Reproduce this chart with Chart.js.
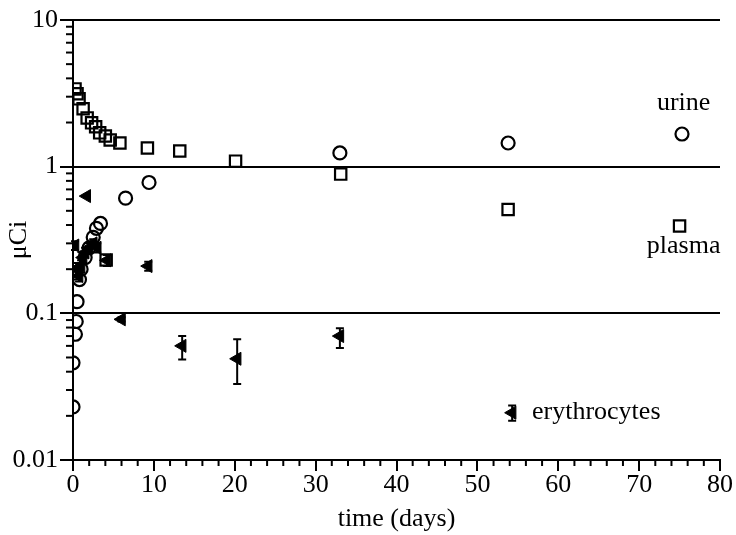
<!DOCTYPE html>
<html lang="en">

<head>
    <meta charset="UTF-8">
    <title>Radioactivity vs time</title>
    <script src="https://cdn.jsdelivr.net/npm/chart.js"></script>
    <style>
        body { margin: 0; background: #fff; }
    </style>
</head>

<body>
    <canvas id="chart" width="736" height="535"></canvas>

    <script>
        // values (time in days, activity in uCi)
        const urineDays = [0, 0, 0.3, 0.4, 0.5, 0.8, 1, 1.5, 2, 2.5, 2.9, 3.4, 6.5, 9.4, 33, 53.8, 75.3];
        const urineUCi = [0.023, 0.046, 0.072, 0.088, 0.12, 0.17, 0.2, 0.24, 0.28, 0.33, 0.38, 0.41, 0.61, 0.78, 1.24, 1.45, 1.67];

        const plasmaDays = [0.25, 0.5, 0.75, 1.25, 1.75, 2.3, 2.8, 3.3, 4, 4.6, 5.8, 9.2, 13.2, 20.1, 33.1, 4.1, 53.8, 75];
        const plasmaUCi = [3.39, 3.14, 2.9, 2.48, 2.15, 1.99, 1.87, 1.7, 1.62, 1.52, 1.45, 1.34, 1.28, 1.09, 0.89, 0.231, 0.51, 0.394];

        const eryDays = [0.25, 0.5, 0.75, 1, 1.25, 1.5, 2, 2.5, 3, 1.7, 4.2, 6, 9.3, 13.5, 20.3, 33, 54.3];
        const eryUCi = [0.29, 0.2, 0.18, 0.21, 0.24, 0.26, 0.28, 0.3, 0.28, 0.63, 0.23, 0.091, 0.21, 0.06, 0.049, 0.07, 0.021];
        const eryLow = [0.27, 0.17, 0.165, 0.19, 0.22, 0.24, 0.26, 0.28, 0.26, 0.62, 0.21, 0.088, 0.195, 0.0485, 0.033, 0.058, 0.0185];
        const eryHigh = [0.31, 0.22, 0.2, 0.23, 0.26, 0.28, 0.3, 0.32, 0.3, 0.64, 0.25, 0.094, 0.225, 0.07, 0.0665, 0.079, 0.0235];

        const yTicks = [0.01, 0.1, 1, 10];
        const serif = "'Liberation Serif', 'Times New Roman', serif";

        function toPoints(xs, ys) {
            return xs.map((x, i) => ({ x: x, y: ys[i] }));
        }

        // minor ticks, error bars and the series labels
        const extras = {
            id: "extras",
            afterDatasetsDraw(chart) {
                let ctx = chart.ctx;
                let xs = chart.scales.x;
                let ys = chart.scales.y;
                let area = chart.chartArea;
                ctx.save();
                ctx.strokeStyle = "#000";
                ctx.lineWidth = 2;

                // log minor ticks on the y axis
                for (let d = 0; d < yTicks.length - 1; d++) {
                    for (let k = 2; k <= 9; k++) {
                        let py = ys.getPixelForValue(yTicks[d] * k);
                        ctx.beginPath();
                        ctx.moveTo(area.left - 7, py);
                        ctx.lineTo(area.left, py);
                        ctx.stroke();
                    }
                }
                // x minor ticks every 2 days
                for (let t = 2; t < 80; t += 2) {
                    if (t % 10 === 0) continue;
                    let px = xs.getPixelForValue(t);
                    ctx.beginPath();
                    ctx.moveTo(px, area.bottom);
                    ctx.lineTo(px, area.bottom + 6);
                    ctx.stroke();
                }

                // erythrocyte error bars
                for (let i = 0; i < eryDays.length; i++) {
                    let px = xs.getPixelForValue(eryDays[i]);
                    let lo = ys.getPixelForValue(eryLow[i]);
                    let hi = ys.getPixelForValue(eryHigh[i]);
                    ctx.beginPath();
                    ctx.moveTo(px, lo);
                    ctx.lineTo(px, hi);
                    ctx.moveTo(px - 4, lo);
                    ctx.lineTo(px + 4, lo);
                    ctx.moveTo(px - 4, hi);
                    ctx.lineTo(px + 4, hi);
                    ctx.stroke();
                }

                // series labels
                ctx.fillStyle = "#000";
                ctx.font = "26px " + serif;
                ctx.textBaseline = "alphabetic";
                ctx.textAlign = "center";
                ctx.fillText("urine", xs.getPixelForValue(75.5), 110);
                ctx.fillText("plasma", xs.getPixelForValue(75.5), 253);
                ctx.textAlign = "left";
                ctx.fillText("erythrocytes", 532, 419);
                ctx.restore();
            }
        };

        let ctx = document.getElementById("chart").getContext("2d");

        new Chart(ctx, {
            type: "scatter",
            data: {
                datasets: [
                    {
                        label: "urine",
                        data: toPoints(urineDays, urineUCi),
                        pointStyle: "circle",
                        pointRadius: 6.5,
                        backgroundColor: "rgba(255,255,255,0)",
                        borderColor: "#000",
                        borderWidth: 2.2
                    },
                    {
                        label: "plasma",
                        data: toPoints(plasmaDays, plasmaUCi),
                        pointStyle: "rect",
                        pointRadius: 8,
                        backgroundColor: "rgba(255,255,255,0)",
                        borderColor: "#000",
                        borderWidth: 2.2
                    },
                    {
                        label: "erythrocytes",
                        data: toPoints(eryDays, eryUCi),
                        pointStyle: "triangle",
                        rotation: -90,
                        pointRadius: 7.5,
                        backgroundColor: "#000",
                        borderColor: "#000",
                        borderWidth: 1
                    }
                ]
            },
            options: {
                responsive: false,
                animation: false,
                layout: { padding: { top: 20, right: 16, left: 0, bottom: 0 } },
                plugins: {
                    legend: { display: false },
                    tooltip: { enabled: false }
                },
                scales: {
                    x: {
                        type: "linear",
                        min: 0,
                        max: 80,
                        afterFit: (scale) => { scale.height = 75; },
                        ticks: {
                            stepSize: 10,
                            color: "#000",
                            padding: -1,
                            font: { family: serif, size: 26 }
                        },
                        grid: {
                            drawOnChartArea: false,
                            drawTicks: true,
                            tickLength: 11,
                            tickColor: "#000",
                            lineWidth: 2
                        },
                        border: { display: true, color: "#000", width: 2 },
                        title: {
                            display: true,
                            text: "time (days)",
                            color: "#000",
                            padding: 0,
                            font: { family: serif, size: 26 }
                        }
                    },
                    y: {
                        type: "logarithmic",
                        min: 0.01,
                        max: 10,
                        afterFit: (scale) => { scale.width = 73; },
                        afterBuildTicks: (scale) => {
                            scale.ticks = yTicks.map(v => ({ value: v, major: true }));
                        },
                        ticks: {
                            color: "#000",
                            padding: 2,
                            font: { family: serif, size: 26 },
                            callback: (v) => String(v)
                        },
                        grid: {
                            color: "#000",
                            lineWidth: 2,
                            drawTicks: true,
                            tickLength: 13,
                            tickColor: "#000"
                        },
                        border: { display: true, color: "#000", width: 2 },
                        title: {
                            display: true,
                            text: "μCi",
                            color: "#000",
                            padding: 4,
                            font: { family: serif, size: 26 }
                        }
                    }
                }
            },
            plugins: [extras]
        });
    </script>
</body>

</html>
